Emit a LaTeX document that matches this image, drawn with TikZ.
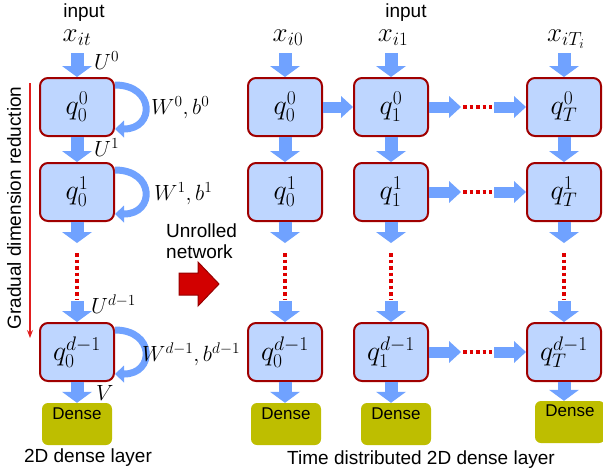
\documentclass[tikz,border=0pt]{standalone}
\usepackage{fix-cm}
\usepackage{fontspec}
\setmainfont{Liberation Sans}
\usetikzlibrary{arrows.meta}

\definecolor{boxblue}{RGB}{190,214,255}
\definecolor{boxred}{RGB}{160,0,0}
\definecolor{arrowblue}{RGB}{112,162,255}
\definecolor{densegreen}{RGB}{190,190,0}
\definecolor{dotred}{RGB}{222,0,0}
\definecolor{bigred}{RGB}{210,0,0}
\definecolor{bigredline}{RGB}{150,0,0}
\definecolor{gradred}{RGB}{225,30,30}

\newcommand\qsize{\fontsize{28}{32}\selectfont}
\newcommand\xsize{\fontsize{27}{31}\selectfont}
\newcommand\lblsize{\fontsize{22}{26}\selectfont}
\newcommand\txtsize{\fontsize{19}{21}\selectfont}
\newcommand\densesize{\fontsize{17}{20}\selectfont}

\tikzset{
  qbox/.style={draw=boxred, line width=2pt, fill=boxblue, rounded corners=8pt,
    minimum width=74pt, minimum height=58pt, inner sep=0pt, font=\qsize},
  densebox/.style={fill=densegreen, rounded corners=6pt,
    minimum width=70pt, minimum height=42pt, inner sep=0pt},
  densetxt/.style={font=\densesize, inner sep=0pt},
  vfat/.style={draw=arrowblue, line width=13pt,
    -{Triangle[length=11pt,width=30pt,line width=0pt]}},
  hfat/.style={draw=arrowblue, line width=11pt,
    -{Triangle[length=12pt,width=22pt,line width=0pt]}},
  loopar/.style={draw=arrowblue, line width=7pt,
    -{Triangle[length=9pt,width=17pt,line width=0pt]}},
  reddots/.style={draw=dotred, line width=3.5pt, dash pattern=on 3.5pt off 3pt},
  xlbl/.style={font=\xsize, inner sep=0pt},
  lbl/.style={font=\lblsize, inner sep=0pt},
  sanslbl/.style={font=\txtsize, inner sep=0pt},
}

\begin{document}
\begin{tikzpicture}[x=1pt,y=-1pt]
\useasboundingbox (0,0) rectangle (603,475);

% ---------- folded network (left) ----------
\node[sanslbl] (inL) at (84,13) {input};
\node[xlbl] (xL) at (77,38) {$x_{it}$};

\node[qbox] (L0) at (77,107) {$q_0^0$};
\node[qbox] (L1) at (77,192) {$q_0^1$};
\node[qbox] (L2) at (77,352) {$q_0^{d-1}$};
\node[densebox] (DL) at (77,424) {};
\node[densetxt] (DLt) at (77,414) {Dense};

\coordinate (aL) at (77,53);
\coordinate (bL) at (77,243);
\coordinate (cL) at (77,253);
\coordinate (dL) at (77,299);
\coordinate (eL) at (77,301);

\draw[vfat] (aL) -- (L0.north);
\draw[vfat] (L0.south) -- (L1.north);
\draw[vfat] (L1.south) -- (bL);
\draw[reddots] (cL) -- (dL);
\draw[vfat] (eL) -- (L2.north);
\draw[vfat] (L2.south) -- (DL.north);

% recurrent self loops
\foreach \n in {L0,L1,L2}
  \draw[loopar] ([yshift=22pt]\n.east) .. controls +(40,0) and +(40,0) .. ([yshift=-22pt]\n.east);

\node[lbl, anchor=west] (U0) at (94,61) {$U^0$};
\node[lbl, anchor=west] (U1) at (94,148) {$U^1$};
\node[lbl, anchor=west] (U2) at (91,304) {$U^{d-1}$};
\node[lbl, anchor=west] (V) at (96,393) {$V$};
\node[lbl, anchor=west] (W0) at (151,108) {$W^0, b^0$};
\node[lbl, anchor=west] (W1) at (154,194) {$W^1, b^1$};
\node[lbl, anchor=west] (W2) at (142,354) {$W^{d-1}, b^{d-1}$};

% dimension reduction marker
\coordinate (g1) at (30,83);
\coordinate (g2) at (30,338);
\draw[gradred, line width=1.1pt, -{Stealth[length=8pt,width=6pt]}] (g1) -- (g2);
\node[sanslbl, rotate=90] (grad) at (14,208) {Gradual dimension reduction};

\node[sanslbl] (lay2d) at (88,458) {2D dense layer};

% ---------- unrolling arrow ----------
\node[sanslbl, anchor=base west] (unr1) at (166,237) {Unrolled};
\node[sanslbl, anchor=base west] (unr2) at (166,258) {network};
\draw[fill=bigred, draw=bigredline, line width=1pt, line join=miter]
  (179,273) -- (198,273) -- (198,262) -- (219,284) -- (198,306)
  -- (198,295) -- (179,295) -- cycle;

% ---------- unrolled network (right) ----------
\node[sanslbl] (inR) at (406,13) {input};
\node[xlbl] (x0) at (288,38) {$x_{i0}$};
\node[xlbl] (x1) at (393,38) {$x_{i1}$};
\node[xlbl] (xT) at (566,39) {$x_{iT_i}$};

\foreach \c/\x/\dx/\dy/\ty in {0/285/286/424/414, 1/391/396/424/414, T/564/570/422/411} {
  \node[qbox] (R\c a) at (\x,107) {$q_{\c}^0$};
  \node[qbox] (R\c b) at (\x,192) {$q_{\c}^1$};
  \node[qbox] (R\c c) at (\x,352) {$q_{\c}^{d-1}$};
  \node[densebox] (D\c) at (\dx,\dy) {};
  \node[densetxt] (D\c t) at (\dx,\ty) {Dense};
  \coordinate (top\c) at (\x,53);
  \coordinate (mid\c) at (\x,243);
  \coordinate (dsa\c) at (\x,253);
  \coordinate (dsb\c) at (\x,299);
  \coordinate (low\c) at (\x,301);
  \draw[vfat] (top\c) -- (R\c a.north);
  \draw[vfat] (R\c a.south) -- (R\c b.north);
  \draw[vfat] (R\c b.south) -- (mid\c);
  \draw[reddots] (dsa\c) -- (dsb\c);
  \draw[vfat] (low\c) -- (R\c c.north);
  \draw[vfat] (R\c c.south) -- (R\c c.south |- D\c.north);
}

\draw[hfat] (R0a.east) -- (R1a.west);
\foreach \r/\y in {a/107, b/192, c/352} {
  \coordinate (h\r1) at (461,\y);
  \coordinate (h\r2) at (463,\y);
  \coordinate (h\r3) at (492,\y);
  \coordinate (h\r4) at (494,\y);
  \draw[hfat] (R1\r.east) -- (h\r1);
  \draw[reddots] (h\r2) -- (h\r3);
  \draw[hfat] (h\r4) -- (RT\r.west);
}

\node[sanslbl] (laytd) at (421,460) {Time distributed 2D dense layer};
\end{tikzpicture}
\end{document}
